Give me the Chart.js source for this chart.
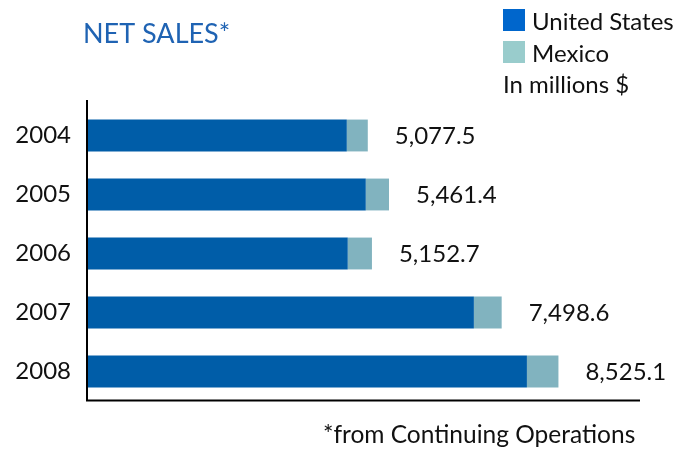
<!DOCTYPE html>
<html>
<head>
<meta charset="utf-8">
<script src="https://cdn.jsdelivr.net/npm/chart.js@4"></script>
<style>
  html, body { margin: 0; padding: 0; background: #ffffff; }
  #wrap { width: 694px; height: 449px; position: relative; }
</style>
</head>
<body>
<div id="wrap"><canvas id="c" width="694" height="449"></canvas></div>
<script>
// Net sales by year, in millions of dollars
const years = ['2004', '2005', '2006', '2007', '2008'];
const unitedStates = [4698.0, 5041.0, 4715.0, 6996.0, 7955.0];
const mexico = [379.5, 420.4, 437.7, 502.6, 570.1];
const seriesNames = ['United States', 'Mexico'];

const barColors = ['#005DA8', '#81B3BF'];
const legendColors = ['#0066CC', '#99CCCC'];
const FONT = 'Lato, "Open Sans", sans-serif';

function fmt(v) {
  const r = Math.round(v * 10) / 10;
  return r.toLocaleString('en-US', { minimumFractionDigits: 1, maximumFractionDigits: 1 });
}

const decor = {
  id: 'decor',
  afterDraw(chart) {
    const ctx = chart.ctx;
    const a = chart.chartArea;
    ctx.save();

    // axis lines
    ctx.strokeStyle = '#000000';
    ctx.lineWidth = 2;
    ctx.beginPath();
    ctx.moveTo(a.left, a.top - 6);
    ctx.lineTo(a.left, a.bottom);
    ctx.moveTo(a.left - 1, a.bottom - 0.5);
    ctx.lineTo(a.right, a.bottom - 0.5);
    ctx.stroke();

    // totals at the end of each bar
    const meta = chart.getDatasetMeta(chart.data.datasets.length - 1);
    ctx.fillStyle = '#111111';
    ctx.font = '24px ' + FONT;
    ctx.textAlign = 'left';
    ctx.textBaseline = 'middle';
    meta.data.forEach((bar, i) => {
      const total = unitedStates[i] + mexico[i];
      ctx.fillText(fmt(total), bar.x + 27, bar.y + 1);
    });

    // title
    ctx.fillStyle = '#1F63B3';
    ctx.font = '27px ' + FONT;
    ctx.textBaseline = 'alphabetic';
    ctx.fillText('NET SALES*', 83, 43);

    // legend
    ctx.font = '24px ' + FONT;
    seriesNames.forEach((name, i) => {
      const y = 9 + i * 32;
      ctx.fillStyle = legendColors[i];
      ctx.fillRect(503, y, 22, 22);
      ctx.fillStyle = '#111111';
      ctx.fillText(name, 532, y + 21);
    });
    ctx.fillText('In millions $', 503, 93);

    // footnote
    ctx.font = '24.5px ' + FONT;
    ctx.fillText('*from Continuing Operations', 323, 443);

    ctx.restore();
  }
};

new Chart(document.getElementById('c'), {
  type: 'bar',
  data: {
    labels: years,
    datasets: [
      { label: seriesNames[0], data: unitedStates, backgroundColor: barColors[0] },
      { label: seriesNames[1], data: mexico, backgroundColor: barColors[1] }
    ]
  },
  options: {
    indexAxis: 'y',
    responsive: false,
    animation: false,
    layout: { padding: { top: 106, bottom: 48, right: 54, left: 0 } },
    datasets: { bar: { barPercentage: 0.54, categoryPercentage: 1.0, borderWidth: 0 } },
    scales: {
      x: {
        stacked: true,
        min: 0,
        max: 10000,
        display: false
      },
      y: {
        stacked: true,
        grid: { display: false, drawTicks: false },
        border: { display: false },
        ticks: {
          color: '#111111',
          font: { family: FONT, size: 24 },
          padding: 16
        },
        afterFit(scale) { scale.width = 87; }
      }
    },
    plugins: {
      legend: { display: false },
      tooltip: { enabled: false }
    }
  },
  plugins: [decor]
});
</script>
</body>
</html>
